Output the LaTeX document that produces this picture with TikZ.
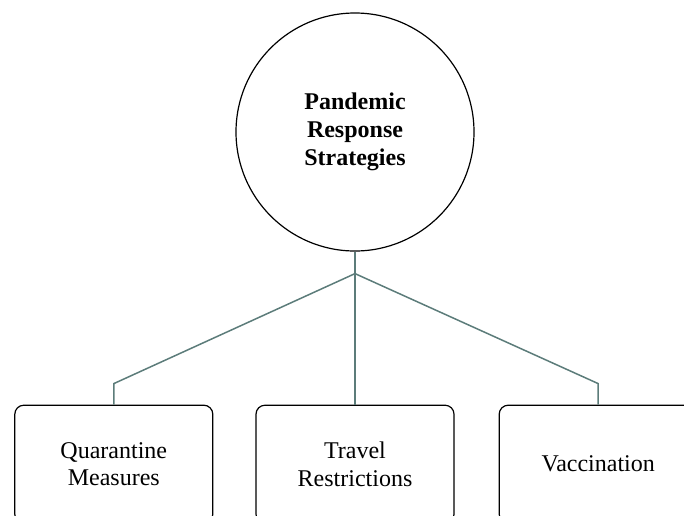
\documentclass[tikz,border=0pt]{standalone}
\usepackage{fontspec}
\setmainfont{Liberation Serif}
\usepackage{tikz}
\usetikzlibrary{positioning}

\definecolor{linkgray}{RGB}{92,124,122}

\tikzset{
  hubnode/.style={circle,draw,line width=1.2pt,minimum size=238pt,inner sep=0pt,
    align=center,font=\fontsize{24}{28}\selectfont\bfseries},
  leafnode/.style={rectangle,draw,line width=1.2pt,rounded corners=9pt,
    minimum width=198pt,minimum height=118pt,align=center,
    font=\fontsize{24}{27.5}\selectfont},
  link/.style={draw=linkgray,line width=1.5pt}
}

\begin{document}
\begin{tikzpicture}[x=1pt,y=1pt]
      \clip (0,0) rectangle (684,-515);
      \useasboundingbox (0,0) rectangle (684,-515);

      \node[hubnode] (strat) at (355,-132) {Pandemic\\Response\\Strategies};

      \node[leafnode] (travel) [below=153pt of strat] {Travel\\Restrictions};
      \node[leafnode] (quar) [left=42pt of travel] {Quarantine\\Measures};
      \node[leafnode] (vacc) [right=44pt of travel] {Vaccination};

      \coordinate (fork) at ([yshift=-22pt]strat.south);

      \draw[link] (strat.south) -- (fork);
      \draw[link] (fork) -- ([yshift=21pt]quar.north) -- (quar.north);
      \draw[link] (fork) -- (travel.north);
      \draw[link] (fork) -- ([yshift=21pt]vacc.north) -- (vacc.north);
    \end{tikzpicture}
\end{document}
